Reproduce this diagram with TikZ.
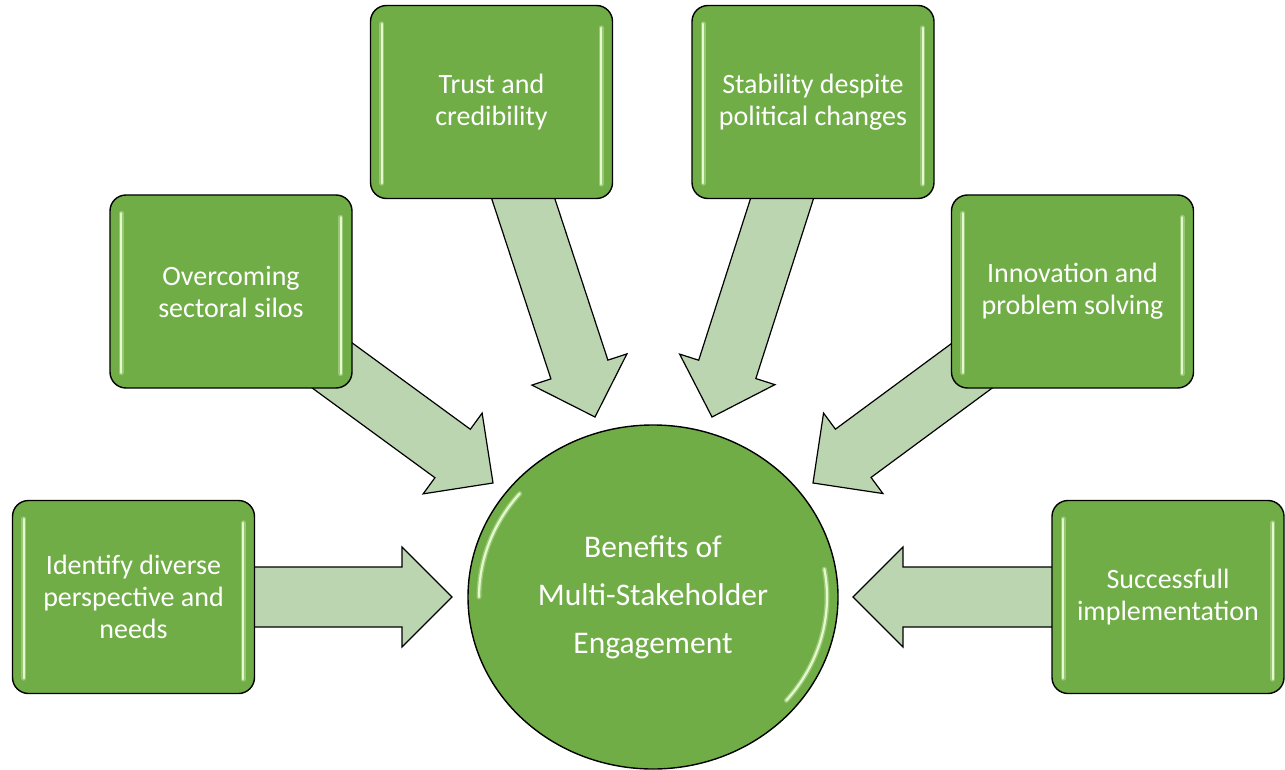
\documentclass[tikz,border=0pt]{standalone}
\usepackage{fontspec}
\setmainfont{Carlito}
\usetikzlibrary{calc,shapes.geometric}
\pgfdeclarelayer{background}
\pgfsetlayers{background,main}
\definecolor{boxgreen}{RGB}{112,173,71}
\definecolor{arrowgreen}{RGB}{187,213,176}
\definecolor{glosscol}{RGB}{228,250,205}
\tikzset{
  boxnode/.style={draw=black, line width=1.4pt, fill=boxgreen, rounded corners=16pt,
    minimum width=242pt, minimum height=193pt, text=white, align=center,
    font=\fontsize{28}{32}\selectfont, inner sep=0pt},
  hubnode/.style={ellipse, draw=black, line width=1.4pt, fill=boxgreen,
    minimum width=370pt, minimum height=344pt, text=white, align=center,
    font=\fontsize{31.5}{48}\selectfont, inner sep=0pt},
  blockarrowstyle/.style={draw=black, line width=1.2pt, fill=arrowgreen, line join=miter},
  glossglow/.style={draw=glosscol, line width=5pt, line cap=round, opacity=0.35},
  glossline/.style={draw=glosscol, line width=2.2pt, line cap=round},
}
\newcommand\blockarrow[3]{%
  \coordinate (#3h) at ($(#2)!50pt!(#1)$);
  \draw[blockarrowstyle] ($(#1)!30pt!90:(#2)$) -- ($(#3h)!30pt!90:(#2)$) -- ($(#3h)!50pt!90:(#2)$)
     -- (#2) -- ($(#3h)!50pt!-90:(#2)$) -- ($(#3h)!30pt!-90:(#2)$) -- ($(#1)!30pt!-90:(#2)$) -- cycle;
}
\newcommand\glossbox[1]{%
  \foreach \st in {glossglow,glossline}{
    \draw[\st] ([xshift=12pt,yshift=-19pt]#1.north west) -- ([xshift=12pt,yshift=16pt]#1.south west);
    \draw[\st] ([xshift=-12pt,yshift=-23pt]#1.north east) -- ([xshift=-12pt,yshift=15pt]#1.south east);
  }
}
\begin{document}
\begin{tikzpicture}[x=1pt,y=-1pt]
\useasboundingbox (0,0) rectangle (1285,770);
% hub
\node[hubnode] (hub) at (653,597) {Benefits of\\Multi-Stakeholder\\Engagement};
% boxes
\node[boxnode] (trust) at (491.5,102) {Trust and\\credibility};
\node[boxnode] (stab) at (813,102) {Stability despite\\political changes};
\node[boxnode] (silos) at (231,291.5) {Overcoming\\sectoral silos};
\node[boxnode] (innov) at (1072.5,291.5) {Innovation and\\problem solving};
\node[boxnode] (ident) at (133.5,597) {Identify diverse\\perspective and\\needs};
\node[boxnode, minimum width=232pt] (succ) at (1168,597) {Successfull\\implementation};
% arrow tips
\coordinate (tipTrust) at (595,417);
\coordinate (tipStab) at (712,417);
\coordinate (tipSilos) at (493,483);
\coordinate (tipInnov) at (813,483);
\coordinate (tipIdent) at (452,597);
\coordinate (tipSucc) at (853,597);
\begin{pgfonlayer}{background}
\blockarrow{trust.center}{tipTrust}{aT}
\blockarrow{stab.center}{tipStab}{aS}
\blockarrow{silos.center}{tipSilos}{aO}
\blockarrow{innov.center}{tipInnov}{aI}
\blockarrow{ident.center}{tipIdent}{aD}
\blockarrow{succ.center}{tipSucc}{aU}
\end{pgfonlayer}
% gloss highlights
\glossbox{trust}
\glossbox{stab}
\glossbox{silos}
\glossbox{innov}
\glossbox{ident}
\glossbox{succ}
\foreach \st in {glossglow,glossline}{
  \draw[\st] (hub.center) ++(-140:174 and 161) arc[start angle=-140, end angle=-180, x radius=174, y radius=161];
  \draw[\st] (hub.center) ++(-10:174 and 161) arc[start angle=-10, end angle=40, x radius=174, y radius=161];
}
\end{tikzpicture}
\end{document}
